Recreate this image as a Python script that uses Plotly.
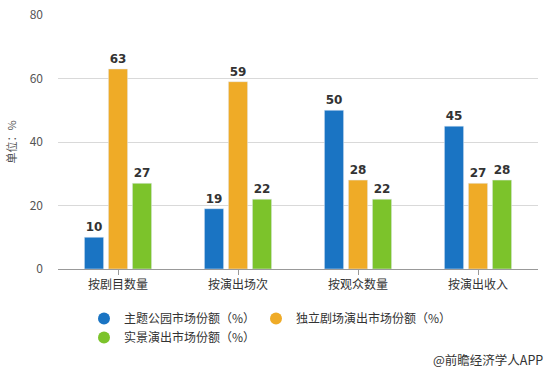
import plotly.graph_objects as go

categories = ["按剧目数量", "按演出场次", "按观众数量", "按演出收入"]
series_names = ["主题公园市场份额（%）", "独立剧场演出市场份额（%）", "实景演出市场份额（%）"]
theme_park = [10, 19, 50, 45]
independent = [63, 59, 28, 27]
scenic = [27, 22, 22, 28]
colors = ["#1a74c3", "#efab27", "#7cc32b"]
y_ticks = [0, 20, 40, 60, 80]
legend_ids = ["legend", "legend2", "legend"]

font = "Noto Sans CJK SC"
fig = go.Figure()
for name, vals, c, lg in zip(series_names, [theme_park, independent, scenic], colors, legend_ids):
    fig.add_trace(go.Bar(
        x=categories, y=vals, name=name, marker_color=c, showlegend=False,
        text=[str(v) for v in vals], textposition="outside",
        textfont=dict(family="DejaVu Sans", size=12, color="#333333", weight="bold"),
        cliponaxis=False,
    ))
    fig.add_trace(go.Scatter(
        x=[None], y=[None], mode="markers", name=name, legend=lg,
        marker=dict(symbol="circle", size=12, color=c),
    ))

leg_common = dict(orientation="v", xref="paper", yref="container",
                  xanchor="left", yanchor="top", bgcolor="rgba(0,0,0,0)",
                  font=dict(family=font, size=12, color="#333333"),
                  itemsizing="constant", tracegroupgap=0)

fig.update_layout(
    width=550, height=369,
    margin=dict(l=58, r=12, t=15, b=100, autoexpand=False),
    paper_bgcolor="white", plot_bgcolor="white",
    barmode="group", bargap=0.4, bargroupgap=0.2,
    font=dict(family=font, size=12, color="#333333"),
    legend=dict(leg_common, x=(84 - 58) / 480, y=(369 - 304) / 369),
    legend2=dict(leg_common, x=(256 - 58) / 480, y=(369 - 304) / 369),
    yaxis=dict(range=[0, 80], tickvals=y_ticks, showgrid=True, gridcolor="#d9d9d9",
               zeroline=False, ticklabelstandoff=14,
               tickfont=dict(size=12, color="#555555"),
               title=dict(text="单位：%", font=dict(size=11, color="#555555"), standoff=10)),
    xaxis=dict(showline=True, linecolor="#999999", ticks="outside", ticklen=5,
               tickcolor="#999999", tickfont=dict(size=12, color="#333333")),
)
fig.add_annotation(text="@前瞻经济学人APP", xref="paper", yref="paper", x=1.015, y=-0.31,
                   xanchor="right", yanchor="top", showarrow=False,
                   font=dict(family=font, size=12.5, color="#333333"))
fig.write_html("out.html", config={"displayModeBar": False},
               post_script="document.body.style.margin='0';document.body.style.padding='0';")
